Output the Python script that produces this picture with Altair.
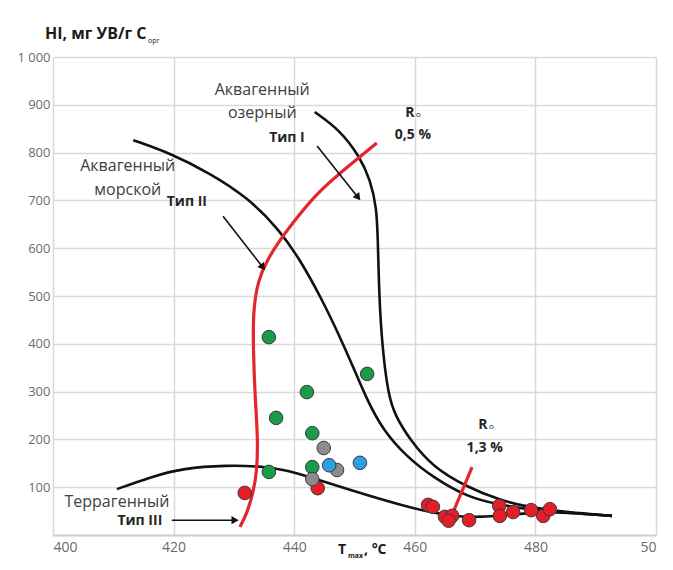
import altair as alt
import pandas as pd

FONT = "Open Sans"

# ---- axis ticks ----
x_ticks = [400, 420, 440, 460, 480, 500]
x_tick_labels = ["400", "420", "440", "460", "480", "50"]
y_ticks = [0, 100, 200, 300, 400, 500, 600, 700, 800, 900, 1000]
y_tick_labels = ["", "100", "200", "300", "400", "500", "600", "700", "800", "900", "1 000"]

# ---- sample points (Tmax, HI) ----
green_x = [435.8, 442.1, 437.0, 443.0, 452.1, 435.8, 443.0]
green_y = [414, 299, 245, 213, 337, 132, 142]
gray_x = [444.9, 447.1, 443.0]
gray_y = [182, 136, 117]
blue_x = [445.8, 450.9]
blue_y = [146, 151]
red_x = [431.8, 443.9, 462.2, 463.0, 465.0, 466.2, 465.6, 469.0, 474.0, 474.1, 476.3, 479.3, 481.3, 482.4]
red_y = [88, 98, 63, 59, 38, 40, 30, 31, 61, 40, 48, 52, 40, 54]

# ---- kerogen type curves ----
type1_x = [443.4, 447.6, 450.9, 452.6, 453.7, 453.9, 454.1, 454.6, 455.6, 456.7, 459.2, 463.0, 468.7, 474.1, 478.6, 483.6, 488.2, 492.7]
type1_y = [885, 847, 791, 743, 686, 603, 498, 393, 293, 251, 199, 142, 100, 73, 59, 50, 45, 40]
type2_x = [413.3, 419.4, 426.0, 432.2, 437.6, 441.0, 444.4, 447.6, 449.8, 452.1, 454.7, 458.7, 463.0, 468.7, 474.1, 478.6, 483.6, 488.2, 492.7]
type2_y = [826, 799, 757, 707, 638, 575, 498, 414, 351, 282, 220, 163, 121, 79, 63, 54, 48, 44, 40]
type3_x = [410.6, 416.1, 421.6, 428.9, 434.3, 438.8, 443.1, 449.3, 457.5, 463.0, 468.7, 474.1, 478.6, 483.6, 488.2, 492.7]
type3_y = [96, 121, 140, 146, 144, 136, 119, 94, 63, 46, 36, 40, 46, 48, 44, 40]

# ---- vitrinite reflectance isolines ----
ro05_x = [453.7, 450.9, 447.6, 443.8, 440.5, 437.6, 435.5, 434.0, 433.2, 433.2, 433.5, 434.0, 433.8, 433.2, 432.2, 431.0]
ro05_y = [820, 791, 757, 715, 665, 617, 575, 533, 471, 393, 289, 199, 130, 90, 46, 17]
ro13_x = [469.5, 466.3]
ro13_y = [142, 46]

# ---- arrows (start, end) ----
arrow_names = ["I", "II", "III"]
arrow_x0 = [443.8, 428.2, 419.7]
arrow_y0 = [814, 667, 31]
arrow_x1 = [450.6, 434.8, 430.2]
arrow_y1 = [706, 560, 31]
arrow_angle = [51.5, 52.0, 0.0]

# ---- annotations ----
plain_text = ["Аквагенный", "озерный", "Аквагенный", "морской", "Террагенный"]
plain_x = [434.7, 434.7, 412.4, 412.4, 410.6]
plain_y = [931, 883, 772, 722, 69]
bold_text = ["Тип I", "Тип II", "Тип III", "0,5 %", "1,3 %", "R", "R"]
bold_x = [438.8, 422.2, 414.4, 459.7, 471.6, 459.2, 471.3]
bold_y = [830, 697, 29, 837, 182, 883, 230]
sub_text = ["o", "o"]
sub_x = [460.6, 472.7]
sub_y = [878, 225]

W, H = 603, 478

xs = alt.Scale(domain=[400, 500], nice=False)
ys = alt.Scale(domain=[0, 1000], nice=False)

x_label_expr = " : ".join(
    [f"datum.value == {v} ? '{l}'" for v, l in zip(x_ticks, x_tick_labels)] + ["datum.label"])
y_label_expr = " : ".join(
    [f"datum.value == {v} ? '{l}'" for v, l in zip(y_ticks, y_tick_labels)] + ["datum.label"])

X = alt.X("x:Q", scale=xs, axis=alt.Axis(values=x_ticks, labelExpr=x_label_expr, title=None,
                                          grid=True, ticks=False, labelPadding=5,
                                          domainColor="#cfcfcf", domainWidth=2,
                                          labelFont=FONT, labelFontSize=14, labelColor="#6b6b6b",
                                          gridColor="#d9d9d9", gridWidth=1.5))
Y = alt.Y("y:Q", scale=ys, axis=alt.Axis(values=y_ticks, labelExpr=y_label_expr, title=None,
                                          grid=True, ticks=False, labelPadding=3, domain=False,
                                          labelFont=FONT, labelFontSize=13, labelColor="#6b6b6b",
                                          gridColor="#d9d9d9", gridWidth=1.5))

# curves table
rows = []
for name, cx, cy in [("t1", type1_x, type1_y), ("t2", type2_x, type2_y), ("t3", type3_x, type3_y)]:
    for i, (a, b) in enumerate(zip(cx, cy)):
        rows.append({"curve": name, "i": i, "x": a, "y": b})
curves_df = pd.DataFrame(rows)

red_rows = []
for name, cx, cy in [("r05", ro05_x, ro05_y), ("r13", ro13_x, ro13_y)]:
    for i, (a, b) in enumerate(zip(cx, cy)):
        red_rows.append({"curve": name, "i": i, "x": a, "y": b})
red_df = pd.DataFrame(red_rows)

arr_rows = []
for n, a0, b0, a1, b1 in zip(arrow_names, arrow_x0, arrow_y0, arrow_x1, arrow_y1):
    arr_rows.append({"arrow": n, "i": 0, "x": a0, "y": b0})
    arr_rows.append({"arrow": n, "i": 1, "x": a1, "y": b1})
arr_df = pd.DataFrame(arr_rows)
head_df = pd.DataFrame({"x": arrow_x1, "y": arrow_y1, "angle": arrow_angle})

pts = []
for grp, gx, gy in [("red", red_x, red_y), ("green", green_x, green_y),
                    ("gray", gray_x, gray_y), ("blue", blue_x, blue_y)]:
    for a, b in zip(gx, gy):
        pts.append({"g": grp, "x": a, "y": b})
pts_df = pd.DataFrame(pts)

base = alt.Chart(curves_df).mark_line(color="#111111", strokeWidth=2.6, interpolate="basis").encode(
    x=X, y=Y, detail="curve:N", order="i:Q")

red_lines = alt.Chart(red_df).mark_line(color="#e3262c", strokeWidth=3.2, interpolate="basis").encode(
    x="x:Q", y="y:Q", detail="curve:N", order="i:Q")

arrows = alt.Chart(arr_df).mark_line(color="#111111", strokeWidth=1.6).encode(
    x="x:Q", y="y:Q", detail="arrow:N", order="i:Q")
heads = alt.Chart(head_df).mark_point(shape="triangle-right", filled=True, color="#111111",
                                      size=70, opacity=1).encode(
    x="x:Q", y="y:Q", angle=alt.Angle("angle:Q", scale=None))

points = alt.Chart(pts_df).mark_point(filled=True, size=185, stroke="#3a3a3a", strokeWidth=1,
                                      opacity=1).encode(
    x="x:Q", y="y:Q",
    fill=alt.Fill("g:N", scale=alt.Scale(domain=["red", "green", "gray", "blue"],
                                         range=["#e41e26", "#1a9a4b", "#8c8c8c", "#2b9fe0"]),
                  legend=None))

plain_df = pd.DataFrame({"t": plain_text, "x": plain_x, "y": plain_y})
bold_df = pd.DataFrame({"t": bold_text, "x": bold_x, "y": bold_y})
sub_df = pd.DataFrame({"t": sub_text, "x": sub_x, "y": sub_y})

plain = alt.Chart(plain_df).mark_text(font=FONT, fontSize=16, color="#404040", align="center",
                                      baseline="middle").encode(x="x:Q", y="y:Q", text="t:N")
bold = alt.Chart(bold_df).mark_text(font=FONT, fontSize=14, fontWeight="bold", color="#262626",
                                    align="center", baseline="middle").encode(x="x:Q", y="y:Q", text="t:N")
subs = alt.Chart(sub_df).mark_text(font=FONT, fontSize=8, color="#262626", align="center",
                                   baseline="middle").encode(x="x:Q", y="y:Q", text="t:N")

title_df = pd.DataFrame({"t": ["HI, мг УВ/г C"]})
sub_title_df = pd.DataFrame({"t": ["орг"]})
title_main = alt.Chart(title_df).mark_text(font=FONT, fontSize=16, fontWeight="bold", color="#1a1a1a",
                                           align="left", baseline="alphabetic").encode(
    x=alt.value(-8), y=alt.value(-18), text="t:N")
title_sub = alt.Chart(sub_title_df).mark_text(font=FONT, fontSize=7, color="#1a1a1a",
                                              align="left", baseline="alphabetic").encode(
    x=alt.value(95), y=alt.value(-14), text="t:N")

xt_df = pd.DataFrame({"t": ["T"]})
xt2_df = pd.DataFrame({"t": ["max"]})
xt3_df = pd.DataFrame({"t": [", °C"]})
xt1 = alt.Chart(xt_df).mark_text(font=FONT, fontSize=14, fontWeight="bold", color="#1a1a1a",
                                 align="left", baseline="top").encode(
    x=alt.value(285), y=alt.value(486), text="t:N")
xt2 = alt.Chart(xt2_df).mark_text(font=FONT, fontSize=7, fontWeight="bold", color="#1a1a1a",
                                  align="left", baseline="top").encode(
    x=alt.value(295), y=alt.value(495), text="t:N")
xt3 = alt.Chart(xt3_df).mark_text(font=FONT, fontSize=14, fontWeight="bold", color="#1a1a1a",
                                  align="left", baseline="top").encode(
    x=alt.value(311), y=alt.value(486), text="t:N")

frame = alt.Chart(pd.DataFrame({"k": [0]})).mark_rule(color="#c4c4c4", strokeWidth=2).encode(
    x=alt.value(-53), x2=alt.value(612), y=alt.value(-54))

chart = alt.layer(frame, base, red_lines, arrows, heads, points, plain, bold, subs,
                  title_main, title_sub, xt1, xt2, xt3).properties(
    width=W, height=H,
    background="white",
    autosize=alt.AutoSizeParams(type="none"),
    padding={"left": 45, "top": 49, "right": 9, "bottom": 27},
).configure_view(stroke=None)

chart.save("out.html", embed_options={"renderer": "svg", "actions": False})
